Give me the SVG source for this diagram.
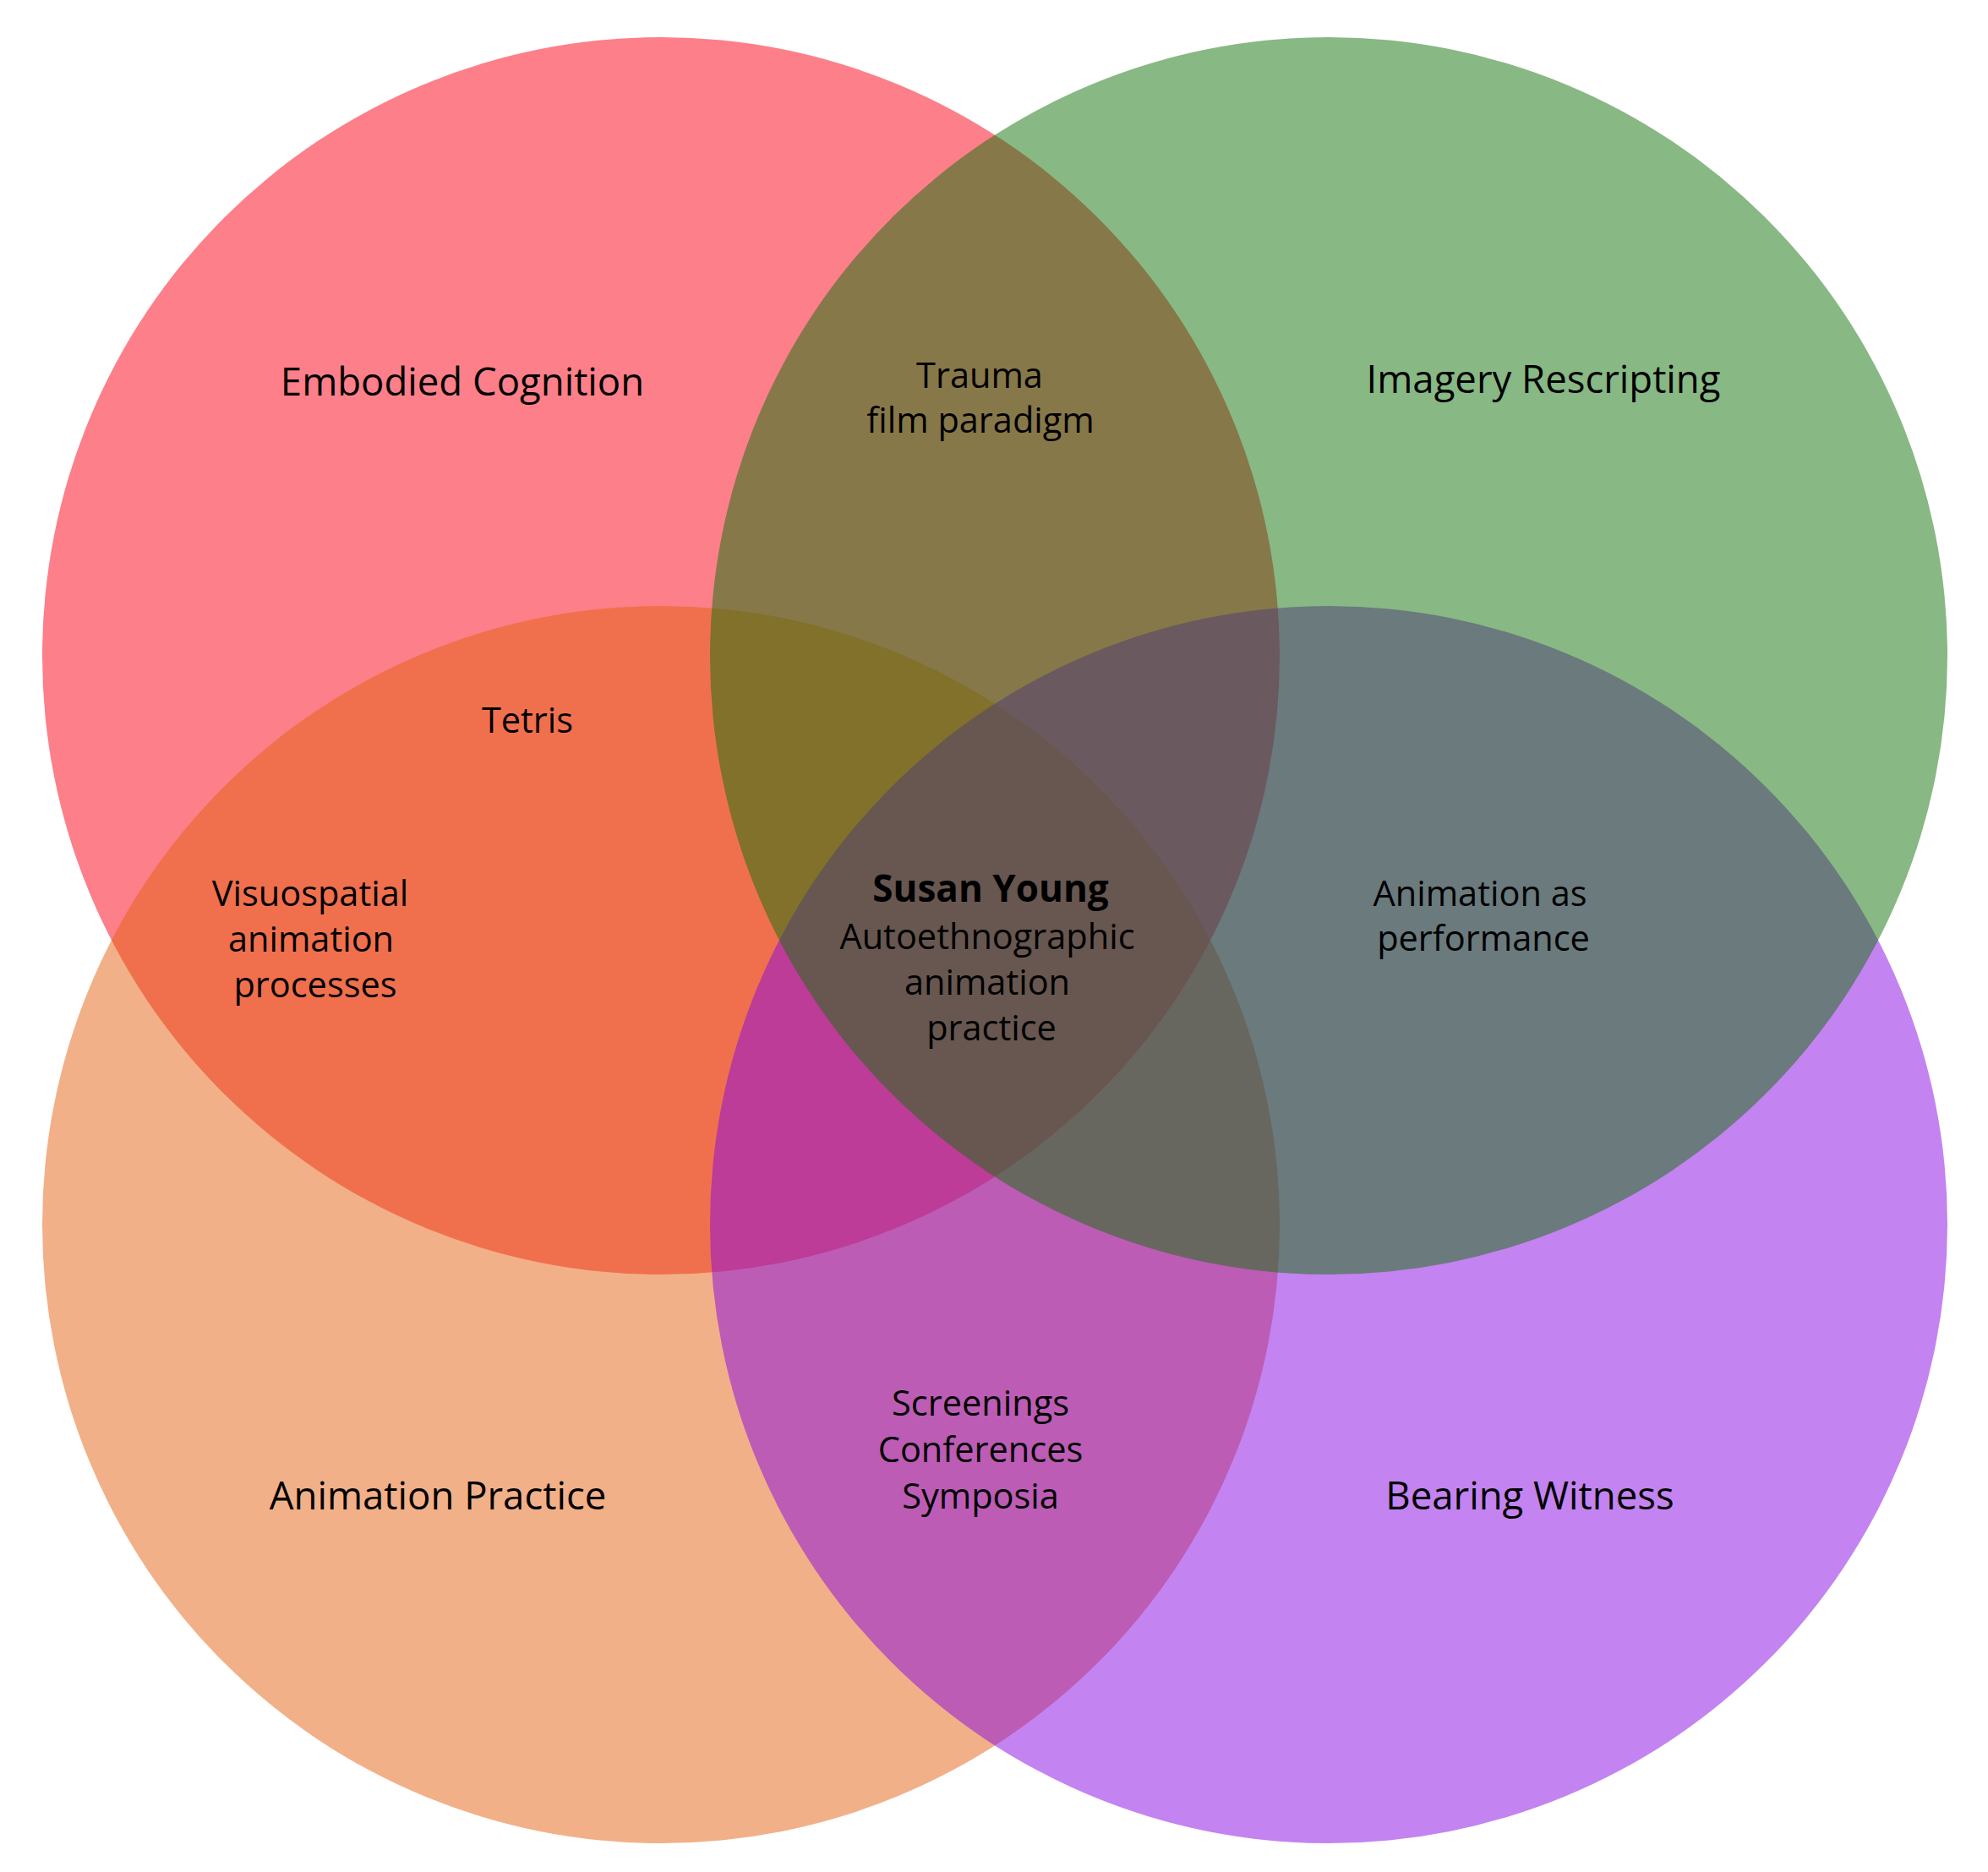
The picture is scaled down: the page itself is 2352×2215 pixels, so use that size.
<svg xmlns="http://www.w3.org/2000/svg" width="2352" height="2215" viewBox="0 0 2352 2215">
  <style>
    .set { opacity: 0.5; }
    text { font-family: "Open Sans", "Noto Sans", "Liberation Sans", sans-serif; fill: #000; text-anchor: middle; }
    .head { font-size: 45.5px; }
    .body { font-size: 41.5px; }
    .bold { font-weight: bold; font-size: 44px; }
  </style>
  <rect width="2352" height="2215" fill="#ffffff"/>
  <g id="set-embodied-cognition">
    <circle class="set" cx="782" cy="776" r="732" fill="#f90013"/>
  </g>
  <g id="set-animation-practice">
    <circle class="set" cx="782" cy="1449" r="732" fill="#e36111"/>
  </g>
  <g id="set-bearing-witness">
    <circle class="set" cx="1572" cy="1449" r="732" fill="#8707e1"/>
  </g>
  <g id="set-imagery-rescripting">
    <circle class="set" cx="1572" cy="776" r="732" fill="#117109"/>
  </g>
  <g id="connectors"></g>
  <g id="labels">
    <text class="head" x="547" y="468">Embodied Cognition</text>
    <text class="head" x="1826" y="465">Imagery Rescripting</text>
    <text class="head" x="518" y="1786">Animation Practice</text>
    <text class="head" x="1810" y="1786">Bearing Witness</text>
  </g>
  <g id="label-trauma">
    <text class="body" x="1159" y="459">Trauma</text>
    <text class="body" x="1160" y="512">film paradigm</text>
  </g>
  <g id="label-tetris">
    <text class="body" x="624" y="867">Tetris</text>
  </g>
  <g id="label-visuospatial">
    <text class="body" x="367" y="1072">Visuospatial</text>
    <text class="body" x="368" y="1126">animation</text>
    <text class="body" x="373" y="1180">processes</text>
  </g>
  <g id="label-center">
    <text class="bold" x="1172" y="1067">Susan Young</text>
    <text class="body" x="1168" y="1123">Autoethnographic</text>
    <text class="body" x="1168" y="1177">animation</text>
    <text class="body" x="1173" y="1231">practice</text>
  </g>
  <g id="label-performance">
    <text class="body" x="1751" y="1072">Animation as</text>
    <text class="body" x="1755" y="1125">performance</text>
  </g>
  <g id="label-screenings">
    <text class="body" x="1160" y="1675">Screenings</text>
    <text class="body" x="1160" y="1730">Conferences</text>
    <text class="body" x="1160" y="1785">Symposia</text>
  </g>
</svg>
